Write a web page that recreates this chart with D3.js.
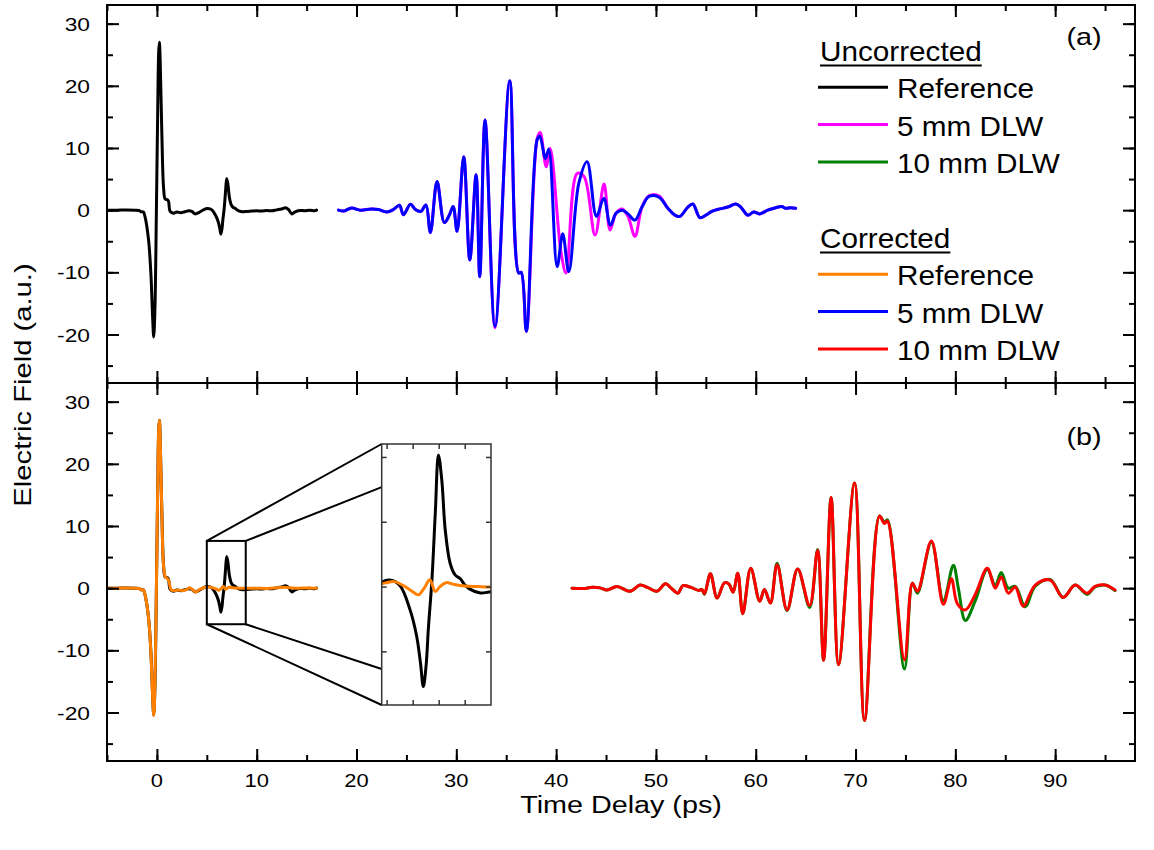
<!DOCTYPE html>
<html>
<head>
<meta charset="utf-8">
<script src="https://cdn.jsdelivr.net/npm/d3@7"></script>
<style>
  body { margin: 0; background: #fff; }
  svg { display: block; font-family: "Liberation Sans", Arial, sans-serif; }
</style>
</head>
<body>
<svg id="chart" width="1154" height="850"></svg>
<script>
// time delay (ps), electric field (a.u.)
var refUncorrected = [
  [-5, 0], [-4, 0], [-3, 0.02], [-2.2, 0], [-1.8, -0.05], [-1.6, -0.25], [-1.35, -0.3],
  [-1.17, -1.2], [-0.83, -4.9], [-0.6, -10.3], [-0.43, -17.2], [-0.32, -20.4],
  [-0.2, -16], [-0.05, 0], [0.08, 16], [0.18, 25.5], [0.25, 27], [0.33, 24],
  [0.5, 12], [0.67, 3.6], [0.83, 1.8], [1.05, 1.7], [1.17, 1.4], [1.33, -0.2],
  [1.67, -0.5], [2.0, -0.3], [2.4, -0.4], [2.8, -0.25], [3.2, -0.1], [3.5, -0.2],
  [3.8, -0.6], [4.2, -0.4], [4.7, 0.1], [5.1, 0.25], [5.5, 0.05], [5.9, -0.9],
  [6.15, -1.9], [6.3, -2.95], [6.41, -3.86], [6.52, -3.0], [6.6, -1.67], [6.74, 0.26],
  [6.87, 2.85], [6.99, 5.08], [7.12, 4.1], [7.25, 2.2], [7.44, 0.9], [7.63, 0.45],
  [7.83, 0.3], [8.0, 0.07], [8.2, -0.1], [8.6, -0.25], [9.0, -0.2], [9.5, -0.15],
  [10, -0.1], [10.5, -0.15], [11, -0.05], [11.5, -0.1], [12, 0.05], [12.5, 0.2],
  [12.9, 0.4], [13.2, 0.1], [13.5, -0.6], [13.8, -0.3], [14.3, -0.05], [14.8, -0.1],
  [15.3, 0], [15.8, -0.1], [16, 0]
];

var refCorrected = [
  [-5, 0], [-4, 0], [-3, 0.02], [-2.2, 0], [-1.8, -0.05], [-1.6, -0.25], [-1.35, -0.3],
  [-1.17, -1.2], [-0.83, -4.9], [-0.6, -10.4], [-0.43, -17.4], [-0.31, -20.5],
  [-0.2, -16], [-0.05, 0], [0.08, 16], [0.18, 25.6], [0.25, 27], [0.33, 24],
  [0.5, 12], [0.67, 3.5], [0.85, 1.8], [1.0, 1.6], [1.2, 1.2], [1.4, -0.2],
  [1.7, -0.4], [2.2, -0.3], [2.6, -0.4], [3.0, -0.2], [3.3, 0.05], [3.6, -0.3],
  [3.9, -0.6], [4.3, -0.2], [4.8, 0.1], [5.0, 0.15], [5.3, 0.19], [5.7, 0.0],
  [6.0, -0.2], [6.22, -0.32], [6.45, -0.05], [6.66, 0.26], [6.87, -0.19], [7.05, 0.0],
  [7.28, 0.15], [7.6, 0.08], [8, 0.02], [8.5, 0.0], [9, -0.02], [10, 0], [11, -0.05],
  [12, 0.05], [12.8, 0.15], [13.3, 0.05], [14, 0], [15, 0.02], [16, 0]
];

var dlw5Uncorrected = [
  [18.2, 0], [18.7, -0.15], [19.5, 0.35], [20.4, 0], [21.5, 0.2], [22.2, 0.1], [23.0, -0.3],
  [23.7, 0.1], [24.3, 0.8], [24.7, -0.75], [25.4, 0.95], [25.9, 0.1], [26.45, -0.2],
  [26.95, 0.85], [27.4, -3.6], [28.07, 4.6], [28.8, -2.0], [29.3, -0.8], [29.68, 0.6],
  [30.08, -3.4], [30.74, 8.6], [31.35, -8.0], [31.98, 5.7], [32.35, -10.7], [32.88, 14.5],
  [33.88, -18.9], [35.35, 20.8], [36.25, -10.1], [36.5, -10.0], [37.02, -19.5],
  [38.1, 11.5], [38.4, 12.5], [39.0, 7.0], [39.4, 9.9], [40.5, -6.9], [41.0, -10.1],
  [42.1, 5.9], [42.8, 5.4], [43.9, -4.0], [44.8, 4.2], [45.4, -3.2], [46.0, -0.5],
  [46.6, 0.2], [47.2, -1.0], [47.9, -4.2], [48.6, 0.5], [49.3, 2.3], [50.3, 2.3],
  [51.2, 0.3], [51.9, -0.8], [52.4, -1.0], [53.2, 0.5], [53.7, 1.0], [54.4, -1.2],
  [55.0, -0.8], [55.6, -0.2], [56.4, 0.2], [57.2, 0.5], [58.0, 1.0], [58.5, 0.5],
  [59.2, -0.8], [59.8, -0.3], [60.4, -0.6], [61.2, 0], [62, 0.4], [62.6, 0.6],
  [63, 0.3], [63.5, 0.4], [64, 0.3]
];

var dlw5Corrected = [
  [18.2, 0], [18.7, -0.15], [19.5, 0.35], [20.4, 0], [21.5, 0.2], [22.2, 0.1], [23.0, -0.3],
  [23.7, 0.1], [24.3, 0.8], [24.7, -0.75], [25.4, 0.95], [25.9, 0.1], [26.45, -0.2],
  [26.95, 0.85], [27.4, -3.6], [28.07, 4.6], [28.8, -2.0], [29.3, -0.8], [29.68, 0.6],
  [30.08, -3.4], [30.74, 8.6], [31.35, -8.0], [31.98, 5.7], [32.35, -10.7], [32.88, 14.5],
  [33.88, -18.7], [35.35, 20.8], [36.25, -10.1], [36.5, -10.0], [37.02, -19.5],
  [38.09, 11.3], [38.36, 11.9], [38.93, 8.3], [39.26, 9.8], [40.1, -9.1], [40.66, -3.8],
  [41.27, -9.9], [42.27, 4.3], [43.1, 7.8], [44.04, -1.0], [44.77, 1.9], [45.44, -2.4],
  [46.0, -0.5], [46.6, 0.0], [47.2, -0.6], [47.9, -1.6], [48.6, 0.5], [49.3, 2.2],
  [50.3, 2.1], [51.2, 0.3], [51.9, -0.8], [52.4, -1.0], [53.2, 0.5], [53.7, 1.0],
  [54.4, -1.2], [55.0, -0.8], [55.6, -0.2], [56.4, 0.2], [57.2, 0.5], [58.0, 1.0],
  [58.5, 0.5], [59.2, -0.8], [59.8, -0.3], [60.4, -0.6], [61.2, 0], [62, 0.4],
  [62.6, 0.6], [63, 0.3], [63.5, 0.4], [64, 0.3]
];

var dlw10Uncorrected = [
  [41.6, 0], [42.9, -0.05], [43.6, 0.15], [44.4, 0.05], [45.1, -0.3], [46.1, 0.27],
  [47.4, -0.5], [48.4, 0.5], [49.2, 0.1], [50.1, -0.5], [50.95, 0.7], [51.6, -0.1],
  [52.2, -0.8], [52.7, 0.4], [53.45, 0.16], [54.3, -0.37], [54.6, -0.2], [54.86, -1.0],
  [55.46, 2.3], [56.13, -1.6], [56.86, 0.86], [57.3, 0.7], [57.73, -0.65], [58.2, 2.4],
  [58.7, -4.1], [59.5, 3.2], [60.4, -2.1], [60.87, -0.2], [61.47, -2.4], [62.14, 4.0],
  [63.14, -3.6], [64.2, 3.1], [65.4, -3.1], [66.2, 6.2], [66.8, -11.6], [67.55, 14.6],
  [68.3, -12.3], [69.9, 16.9], [70.9, -21.3], [72.4, 11.6], [72.9, 10.6], [73.2, 11.0],
  [74.9, -13.0], [75.7, 0.8], [76.2, -0.8], [77.6, 7.4], [78.8, -2.0], [79.8, 3.7],
  [80.3, 0], [81.0, -5.2], [82.0, -2.0], [83.2, 3.0], [84.0, 0.5], [84.6, 2.5],
  [85.3, 0], [86.0, 0.3], [87.0, -3.0], [88.0, 0.3], [89.5, 1.4], [90.8, -1.5],
  [92.0, 0.5], [93.2, -1.0], [94.0, 0.2], [95.0, 0.5], [96.0, -0.4]
];

var dlw10Corrected = [
  [41.6, 0], [42.9, -0.05], [43.6, 0.15], [44.4, 0.05], [45.1, -0.3], [46.1, 0.27],
  [47.4, -0.5], [48.4, 0.5], [49.2, 0.1], [50.1, -0.5], [50.95, 0.7], [51.6, -0.1],
  [52.2, -0.8], [52.7, 0.4], [53.45, 0.16], [54.3, -0.37], [54.6, -0.2], [54.86, -0.9],
  [55.46, 2.3], [56.13, -1.6], [56.86, 0.86], [57.3, 0.7], [57.73, -0.65], [58.2, 2.4],
  [58.7, -4.1], [59.5, 3.2], [60.4, -2.1], [60.87, -0.2], [61.47, -2.4], [62.14, 3.75],
  [63.14, -3.5], [64.2, 3.1], [65.4, -2.8], [66.2, 6.05], [66.8, -11.6], [67.55, 14.6],
  [68.3, -12.3], [69.9, 16.9], [70.9, -21.3], [72.4, 11.6], [72.9, 10.4], [73.2, 10.8],
  [74.9, -11.5], [75.7, 0.8], [76.2, -0.5], [77.6, 7.6], [78.8, -2.6], [79.6, 1.5],
  [80.2, -2.5], [81.0, -3.5], [82.0, -1.0], [83.2, 3.2], [84.0, 0.0], [84.6, 1.8],
  [85.3, -0.8], [86.0, 0.2], [86.8, -2.9], [88.0, 0.5], [89.5, 1.3], [90.8, -1.5],
  [92.0, 0.5], [93.2, -0.8], [94.0, 0.3], [95.0, 0.5], [96.0, -0.3]
];

var xTicks = [0, 10, 20, 30, 40, 50, 60, 70, 80, 90];
var yTicks = [-20, -10, 0, 10, 20, 30];

var legendGroups = ["Uncorrected", "Corrected"];
var legendNames = ["Reference", "5 mm DLW", "10 mm DLW"];
var legendColors = [["#000000", "#ff00ff", "#008000"], ["#ff8000", "#0000ff", "#ff0000"]];

// zoom box (data units) and inset ranges
var zoomBoxX = [5.0, 8.9];
var zoomBoxY = [-5.8, 7.6];
var insetX = [4.81, 9.01];
var insetY = [-4.57, 5.5];
var insetXTicks = [5, 6, 7, 8];
var insetYTicks = [-2.5, 0, 2.5, 5];

var svg = d3.select("#chart");
var left = 107, right = 1135, panelH = 378;
var topY0 = 5, botY0 = topY0 + panelH, botY1 = botY0 + panelH;

var x = d3.scaleLinear().domain([-5, 98]).range([left, right]);
var yTop = d3.scaleLinear().domain([-27.8, 33]).range([botY0, topY0]);
var yBot = d3.scaleLinear().domain([-27.8, 33]).range([botY1, botY0]);

var defs = svg.append("defs");
defs.append("clipPath").attr("id", "clipTop").append("rect")
  .attr("x", left).attr("y", topY0).attr("width", right - left).attr("height", panelH);
defs.append("clipPath").attr("id", "clipBot").append("rect")
  .attr("x", left).attr("y", botY0).attr("width", right - left).attr("height", panelH);

function stretchText(g, str, px, py, size, sx, anchor, rot) {
  return g.append("text")
    .attr("transform", "translate(" + px + "," + py + ")" + (rot ? " rotate(" + rot + ")" : "") + " scale(" + sx + ",1)")
    .attr("text-anchor", anchor)
    .attr("font-size", size)
    .attr("fill", "#000")
    .text(str);
}

function drawLine(g, data, xs, ys, color, w) {
  var line = d3.line().x(d => xs(d[0])).y(d => ys(d[1])).curve(d3.curveCatmullRom.alpha(0.5));
  g.append("path").datum(data)
    .attr("d", line)
    .attr("fill", "none")
    .attr("stroke", color)
    .attr("stroke-width", w)
    .attr("stroke-linejoin", "round")
    .attr("stroke-linecap", "round");
}

function drawFrame(y, y0, y1) {
  var g = svg.append("g");
  var minorX = d3.range(-5, 98, 5);
  var minorY = d3.range(-25, 33, 5);
  g.append("g").attr("transform", `translate(0,${y1})`)
    .call(d3.axisBottom(x).tickValues(minorX).tickSize(-6).tickFormat(""));
  g.append("g").attr("transform", `translate(0,${y1})`)
    .call(d3.axisBottom(x).tickValues(xTicks).tickSize(-12).tickFormat(""));
  g.append("g").attr("transform", `translate(0,${y0})`)
    .call(d3.axisTop(x).tickValues(minorX).tickSize(-6).tickFormat(""));
  g.append("g").attr("transform", `translate(0,${y0})`)
    .call(d3.axisTop(x).tickValues(xTicks).tickSize(-12).tickFormat(""));
  g.append("g").attr("transform", `translate(${left},0)`)
    .call(d3.axisLeft(y).tickValues(minorY).tickSize(-6).tickFormat(""));
  g.append("g").attr("transform", `translate(${left},0)`)
    .call(d3.axisLeft(y).tickValues(yTicks).tickSize(-12).tickFormat(""));
  g.append("g").attr("transform", `translate(${right},0)`)
    .call(d3.axisRight(y).tickValues(minorY).tickSize(-6).tickFormat(""));
  g.append("g").attr("transform", `translate(${right},0)`)
    .call(d3.axisRight(y).tickValues(yTicks).tickSize(-12).tickFormat(""));
  g.selectAll(".domain").remove();
  g.selectAll(".tick line").attr("stroke", "#000").attr("stroke-width", 2);
  g.append("rect").attr("x", left).attr("y", y0).attr("width", right - left).attr("height", y1 - y0)
    .attr("fill", "none").attr("stroke", "#000").attr("stroke-width", 2);
  yTicks.forEach(function (v) {
    stretchText(svg, v, 90, y(v) + 7, 19, 1.2, "end");
  });
}

// traces
var gTop = svg.append("g").attr("clip-path", "url(#clipTop)");
drawLine(gTop, refUncorrected, x, yTop, "#000000", 3);
drawLine(gTop, dlw5Uncorrected, x, yTop, "#ff00ff", 3);
drawLine(gTop, dlw5Corrected, x, yTop, "#0000ff", 3);

var gBot = svg.append("g").attr("clip-path", "url(#clipBot)");
drawLine(gBot, refUncorrected, x, yBot, "#000000", 3);
drawLine(gBot, refCorrected, x, yBot, "#ff8000", 3);
drawLine(gBot, dlw10Uncorrected, x, yBot, "#008000", 3);
drawLine(gBot, dlw10Corrected, x, yBot, "#ff0000", 3);

drawFrame(yTop, topY0, botY0);
drawFrame(yBot, botY0, botY1);

// x tick labels
xTicks.forEach(function (v) {
  stretchText(svg, v, x(v), 787, 18, 1.22, "middle");
});

// axis titles
stretchText(svg, "Time Delay (ps)", (left + right) / 2, 813, 23, 1.25, "middle");
stretchText(svg, "Electric Field (a.u.)", 31, (topY0 + botY1) / 2 + 2, 23, 1.27, "middle", -90);

// panel labels
stretchText(svg, "(a)", 1084, 45, 24, 1.2, "middle");
stretchText(svg, "(b)", 1084, 445, 24, 1.2, "middle");

// legend
var legendRowH = 37.3;
legendGroups.forEach(function (grp, gi) {
  var base = gi === 0 ? 61 : 248;
  var t = stretchText(svg, grp, 820, base, 27, 1.1, "start");
  var w = t.node().getBBox().width * 1.1;
  svg.append("line").attr("x1", 820).attr("x2", 820 + w).attr("y1", base + 4.5).attr("y2", base + 4.5)
    .attr("stroke", "#000").attr("stroke-width", 1.8);
  legendNames.forEach(function (nm, i) {
    var by = base + legendRowH * (i + 1);
    svg.append("line").attr("x1", 818).attr("x2", 888).attr("y1", by - 11).attr("y2", by - 11)
      .attr("stroke", legendColors[gi][i]).attr("stroke-width", 3);
    stretchText(svg, nm, 897, by, 27, 1.1, "start");
  });
});

// zoom box + inset
var xi = d3.scaleLinear().domain(insetX).range([381.7, 491]);
var yi = d3.scaleLinear().domain(insetY).range([705, 444]);
var bx0 = x(zoomBoxX[0]), bx1 = x(zoomBoxX[1]), by0 = yBot(zoomBoxY[1]), by1 = yBot(zoomBoxY[0]);
var ix0 = xi.range()[0], ix1 = xi.range()[1], iy0 = yi.range()[1], iy1 = yi.range()[0];

svg.append("rect").attr("x", bx0).attr("y", by0).attr("width", bx1 - bx0).attr("height", by1 - by0)
  .attr("fill", "none").attr("stroke", "#000").attr("stroke-width", 2);

function clipAtLeft(ax, ay, bx, by) {
  var f = (ix0 - ax) / (bx - ax);
  return [ix0, ay + f * (by - ay)];
}
var pTR = clipAtLeft(bx1, by0, ix1, iy0);
var pBR = clipAtLeft(bx1, by1, ix1, iy1);
var zoomLines = [
  [[bx0, by0], [ix0, iy0]], [[bx0, by1], [ix0, iy1]],
  [[bx1, by0], pTR], [[bx1, by1], pBR]
];
zoomLines.forEach(function (l) {
  svg.append("line").attr("x1", l[0][0]).attr("y1", l[0][1]).attr("x2", l[1][0]).attr("y2", l[1][1])
    .attr("stroke", "#000").attr("stroke-width", 2);
});

svg.append("rect").attr("x", ix0).attr("y", iy0).attr("width", ix1 - ix0).attr("height", iy1 - iy0)
  .attr("fill", "#fff");
defs.append("clipPath").attr("id", "clipInset").append("rect")
  .attr("x", ix0).attr("y", iy0).attr("width", ix1 - ix0).attr("height", iy1 - iy0);
var gIn = svg.append("g").attr("clip-path", "url(#clipInset)");
drawLine(gIn, refUncorrected, xi, yi, "#000000", 3);
drawLine(gIn, refCorrected, xi, yi, "#ff8000", 3);

var gInAx = svg.append("g");
gInAx.append("g").attr("transform", `translate(0,${iy1})`).call(d3.axisBottom(xi).tickValues(insetXTicks).tickSize(-5).tickFormat(""));
gInAx.append("g").attr("transform", `translate(0,${iy0})`).call(d3.axisTop(xi).tickValues(insetXTicks).tickSize(-5).tickFormat(""));
gInAx.append("g").attr("transform", `translate(${ix0},0)`).call(d3.axisLeft(yi).tickValues(insetYTicks).tickSize(-5).tickFormat(""));
gInAx.append("g").attr("transform", `translate(${ix1},0)`).call(d3.axisRight(yi).tickValues(insetYTicks).tickSize(-5).tickFormat(""));
gInAx.selectAll(".domain").remove();
gInAx.selectAll(".tick line").attr("stroke", "#333").attr("stroke-width", 1.5);
gInAx.append("rect").attr("x", ix0).attr("y", iy0).attr("width", ix1 - ix0).attr("height", iy1 - iy0)
  .attr("fill", "none").attr("stroke", "#333").attr("stroke-width", 1.5);
</script>
</body>
</html>
